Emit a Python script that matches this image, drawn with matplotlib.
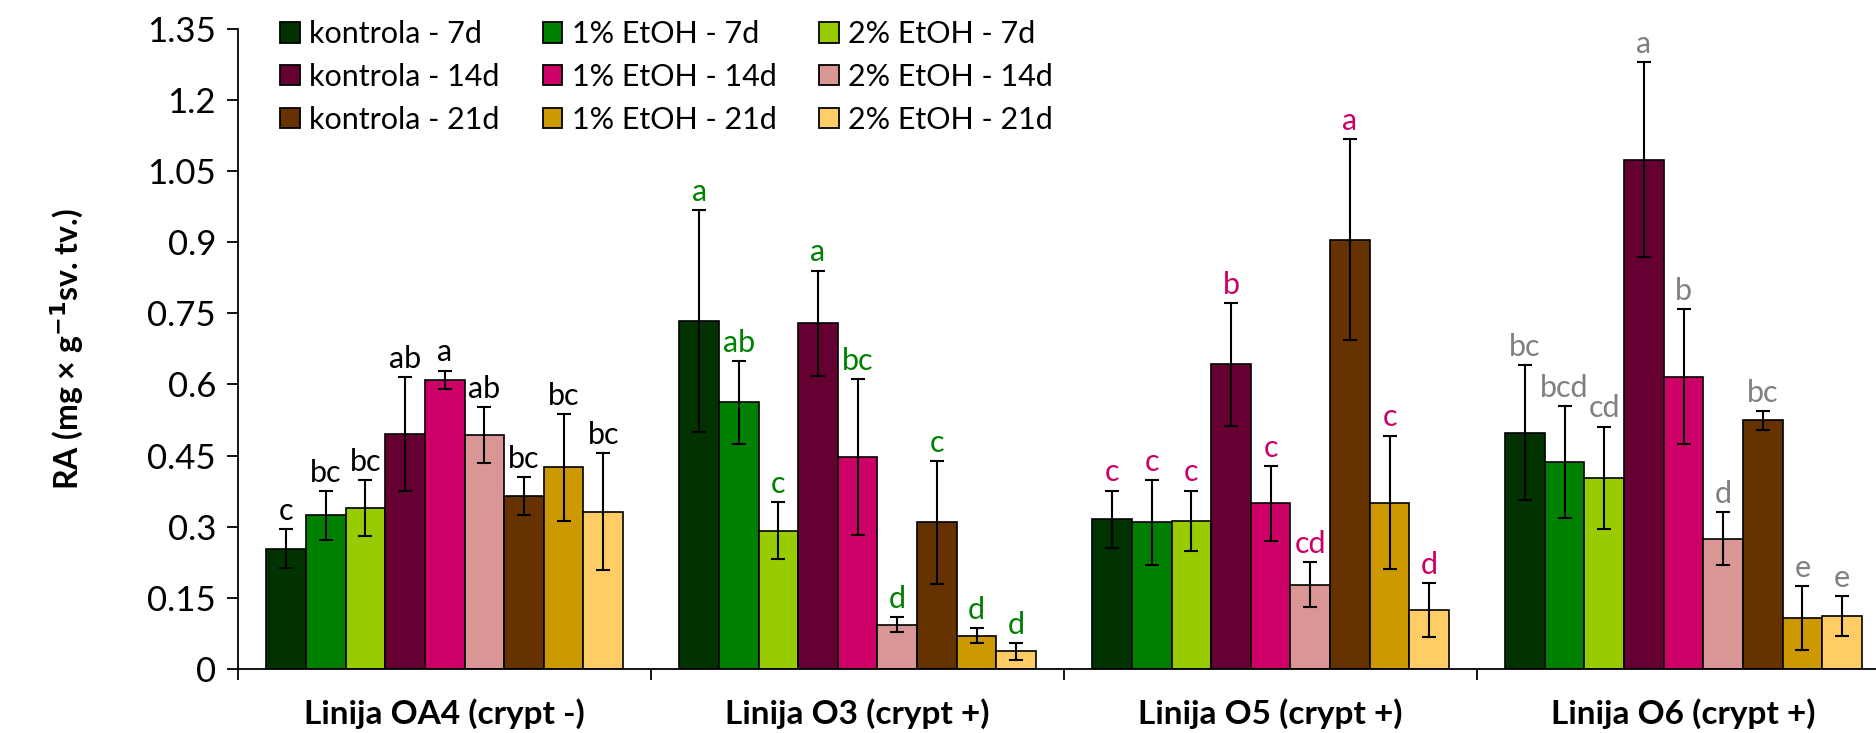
import matplotlib
matplotlib.use("Agg")
import matplotlib.pyplot as plt
from matplotlib.patches import Patch
import numpy as np

groups = ["Linija OA4 (crypt -)", "Linija O3 (crypt +)", "Linija O5 (crypt +)", "Linija O6 (crypt +)"]
series = ["kontrola - 7d", "1% EtOH - 7d", "2% EtOH - 7d",
          "kontrola - 14d", "1% EtOH - 14d", "2% EtOH - 14d",
          "kontrola - 21d", "1% EtOH - 21d", "2% EtOH - 21d"]
colors = ["#003300", "#008000", "#99CC00",
          "#660033", "#CC0066", "#DA9694",
          "#663300", "#CC9900", "#FFCC66"]

# values[group][series]
values = [
    [0.254, 0.324, 0.340, 0.496, 0.610, 0.494, 0.365, 0.425, 0.332],
    [0.734, 0.562, 0.292, 0.729, 0.447, 0.093, 0.309, 0.070, 0.037],
    [0.316, 0.309, 0.312, 0.642, 0.349, 0.178, 0.905, 0.351, 0.124],
    [0.498, 0.436, 0.403, 1.074, 0.616, 0.275, 0.524, 0.108, 0.111],
]
errors = [
    [0.041, 0.051, 0.059, 0.120, 0.019, 0.059, 0.040, 0.112, 0.124],
    [0.234, 0.087, 0.060, 0.111, 0.165, 0.016, 0.130, 0.016, 0.017],
    [0.060, 0.090, 0.064, 0.130, 0.079, 0.047, 0.212, 0.141, 0.057],
    [0.142, 0.118, 0.108, 0.205, 0.142, 0.055, 0.020, 0.067, 0.042],
]
letters = [
    ["c", "bc", "bc", "ab", "a", "ab", "bc", "bc", "bc"],
    ["a", "ab", "c", "a", "bc", "d", "c", "d", "d"],
    ["c", "c", "c", "b", "c", "cd", "a", "c", "d"],
    ["bc", "bcd", "cd", "a", "b", "d", "bc", "e", "e"],
]
letter_colors = ["#000000", "#008000", "#CC0066", "#808080"]
yticks = [0, 0.15, 0.3, 0.45, 0.6, 0.75, 0.9, 1.05, 1.2, 1.35]
ytick_labels = ["0", "0.15", "0.3", "0.45", "0.6", "0.75", "0.9", "1.05", "1.2", "1.35"]

plt.rcParams['font.family'] = ['Lato', 'DejaVu Sans']

fig = plt.figure(figsize=(18.76, 7.33), dpi=100)
ax = fig.add_axes([0.127, 0.0873, 0.873, 0.8736])

w = 0.096
x = np.arange(len(groups))
for s in range(len(series)):
    pos = x + (s - 4) * w
    vals = [values[g][s] for g in range(len(groups))]
    errs = [errors[g][s] for g in range(len(groups))]
    ax.bar(pos, vals, width=w, color=colors[s], edgecolor="black", linewidth=1.2,
           yerr=errs, capsize=5, error_kw=dict(ecolor="black", elinewidth=1.5, capthick=1.5),
           zorder=2)
    for g in range(len(groups)):
        ax.annotate(letters[g][s], (pos[g], vals[g] + errs[g]), xytext=(0, 3),
                    textcoords="offset points", ha="center", va="bottom",
                    fontsize=22, color=letter_colors[g])

ax.set_xlim(-0.5, 3.466)
ax.set_ylim(0, 1.35)
ax.set_yticks(yticks)
ax.set_yticklabels(ytick_labels)
ax.tick_params(axis="y", direction="out", length=8, width=1.3, labelsize=25, pad=8)
ax.set_xticks([-0.5, 0.5, 1.5, 2.5])
ax.set_xticklabels([])
ax.tick_params(axis="x", direction="out", length=8, width=1.3)
for gx, gl in zip(x, groups):
    ax.text(gx, -0.095, gl, ha="center", va="center", fontsize=24, fontweight="bold",
            transform=ax.transData, clip_on=False)
for sp in ["top", "right"]:
    ax.spines[sp].set_visible(False)
for sp in ["left", "bottom"]:
    ax.spines[sp].set_linewidth(1.3)

ax.set_ylabel(r"RA (mg × g$^{\mathbf{-1}}$sv. tv.)", fontsize=23, fontweight="bold", labelpad=44)

order = [0, 3, 6, 1, 4, 7, 2, 5, 8]
handles = [Patch(facecolor=colors[i], edgecolor="black", linewidth=1.3) for i in order]
labs = [series[i] for i in order]
ax.legend(handles, labs, ncol=3, loc="upper left", bbox_to_anchor=(268 / 1876, 1 - 8 / 733),
          bbox_transform=fig.transFigure, frameon=False, fontsize=22,
          handlelength=0.65, handleheight=0.65, handletextpad=0.3,
          columnspacing=1.4, labelspacing=0.48, borderaxespad=0)

fig.savefig("out.png", dpi=100)
